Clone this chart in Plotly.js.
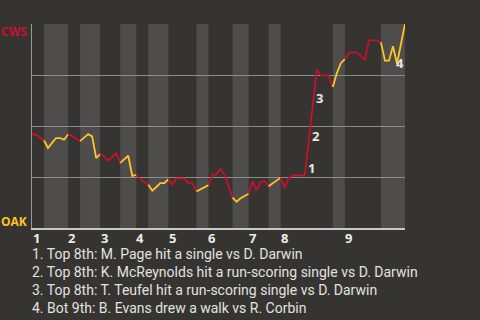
<!DOCTYPE html>
<html>
<head>
<meta charset="utf-8">
<script src="https://cdn.plot.ly/plotly-3.0.1.min.js"></script>
<style>html,body{margin:0;padding:0;background:#363430;}#chart{width:480px;height:320px;}</style>
</head>
<body>
<div id="chart"></div>
<script>
// Win probability (share toward CWS) after each play, play index 0..93
const winProb = [
  0.461, 0.457, 0.444, 0.429, 0.392, 0.417, 0.441, 0.441, 0.433, 0.460,
  0.452, 0.438, 0.426, 0.445, 0.460, 0.449, 0.343, 0.362, 0.352, 0.330,
  0.347, 0.366, 0.319, 0.337, 0.354, 0.256, 0.261, 0.240, 0.225, 0.212,
  0.183, 0.201, 0.220, 0.220, 0.239, 0.212, 0.243, 0.243, 0.243, 0.220,
  0.220, 0.179, 0.190, 0.200, 0.210, 0.261, 0.264, 0.288, 0.261, 0.210,
  0.149, 0.129, 0.146, 0.156, 0.168, 0.228, 0.185, 0.227, 0.228, 0.205,
  0.218, 0.232, 0.247, 0.196, 0.245, 0.258, 0.258, 0.258, 0.258, 0.428,
  0.607, 0.776, 0.749, 0.749, 0.747, 0.691, 0.759, 0.808, 0.828, 0.857,
  0.861, 0.861, 0.844, 0.825, 0.920, 0.920, 0.920, 0.910, 0.820, 0.820,
  0.891, 0.805, 0.894, 1.000
];
// play index where each half-inning starts (plus final index)
const halfStarts = [0, 3, 9, 12, 17, 22, 26, 29, 34, 41, 44, 50, 54, 59, 62, 75, 78, 87, 93];
const inningLabels = ['1','2','3','4','5','6','7','8','9'];
const topTeam = 'CWS';
const bottomTeam = 'OAK';
const noteIdx = [68, 69, 70, 91];
const noteTexts = [
  '1. Top 8th: M. Page hit a single vs D. Darwin',
  '2. Top 8th: K. McReynolds hit a run-scoring single vs D. Darwin',
  '3. Top 8th: T. Teufel hit a run-scoring single vs D. Darwin',
  '4. Bot 9th: B. Evans drew a walk vs R. Corbin'
];

const RED = '#c8102e', GOLD = '#ffc425';
const traces = [];
const shapes = [];
for (let h = 0; h < halfStarts.length - 1; h++) {
  const a = halfStarts[h], b = halfStarts[h + 1];
  const xs = [], ys = [];
  for (let i = a; i <= b; i++) { xs.push(i); ys.push(winProb[i]); }
  traces.push({x: xs, y: ys, type: 'scatter', mode: 'lines', hoverinfo: 'skip',
    line: {color: h % 2 === 0 ? RED : GOLD, width: 1.8}});
  if (h % 2 === 1) {
    shapes.push({type: 'rect', xref: 'x', yref: 'paper', x0: a, x1: b, y0: 0, y1: 1,
      fillcolor: '#4e4d4b', line: {width: 0}, layer: 'below'});
  }
}
const inningStarts = halfStarts.filter((v, i) => i % 2 === 0 && i < halfStarts.length - 1);

const annotations = [
  {xref: 'paper', yref: 'y', x: 0, y: 1, xanchor: 'right', yanchor: 'middle', xshift: -3, yshift: -7,
   text: '<b>' + topTeam + '</b>', showarrow: false, font: {family: 'Open Sans, sans-serif', size: 12, color: RED}},
  {xref: 'paper', yref: 'y', x: 0, y: 0, xanchor: 'right', yanchor: 'middle', xshift: -3, yshift: 7,
   text: '<b>' + bottomTeam + '</b>', showarrow: false, font: {family: 'Open Sans, sans-serif', size: 12, color: GOLD}}
];
// inning labels under the axis, starting at each inning's first play
inningStarts.forEach((s, k) => {
  annotations.push({x: s, y: 0, xref: 'x', yref: 'y', showarrow: false,
    xanchor: 'center', yanchor: 'middle', xshift: 4, yshift: -10,
    text: '<b>' + inningLabels[k] + '</b>', font: {family: 'Open Sans, sans-serif', size: 13, color: '#ececec'}});
});
const markShift = [[7, 7], [7, 5], [7, 6], [3, 1]];
noteIdx.forEach((idx, k) => {
  annotations.push({x: idx, y: winProb[idx], xref: 'x', yref: 'y', showarrow: false,
    xanchor: 'center', yanchor: 'middle', xshift: markShift[k][0], yshift: markShift[k][1],
    text: '<b>' + (k + 1) + '</b>', font: {family: 'Open Sans, sans-serif', size: 13, color: '#e8e8e8'}});
});
noteTexts.forEach((t, k) => {
  annotations.push({xref: 'paper', yref: 'y', x: 0, y: 0, xanchor: 'left', yanchor: 'middle',
    xshift: -2, yshift: -(26 + 17.9 * k), showarrow: false, text: t, align: 'left',
    font: {family: 'Roboto, sans-serif', size: 14, color: '#e2e2e2'}});
});

const layout = {
  width: 480, height: 320,
  margin: {l: 32, r: 75, t: 24, b: 92, pad: 0},
  paper_bgcolor: '#363430', plot_bgcolor: '#363430',
  showlegend: false,
  xaxis: {range: [0, 93], showticklabels: false, ticks: '',
    showgrid: false, zeroline: false, showline: true, linecolor: '#c8c8c8', linewidth: 1.5},
  yaxis: {range: [0, 1], tickvals: [0.25, 0.5, 0.75, 1], showticklabels: false,
    showgrid: true, gridcolor: '#8c8c8c', gridwidth: 1, zeroline: false,
    showline: true, linecolor: '#9a9a9a', linewidth: 1, ticks: ''},
  shapes: shapes,
  annotations: annotations
};
Plotly.newPlot('chart', traces, layout, {staticPlot: true, displayModeBar: false});
</script>
</body>
</html>
